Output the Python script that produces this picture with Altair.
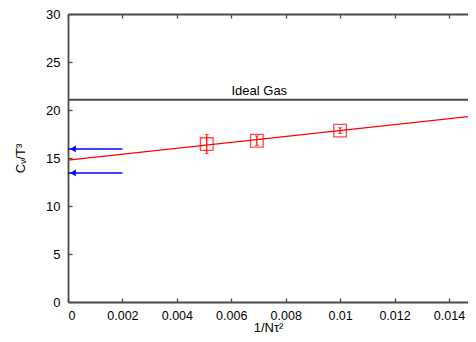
import altair as alt
import pandas as pd

# ---- data ----
inv_nt2 = [0.0051, 0.00694, 0.0100]          # 1/N_tau^2
cv_t3 = [16.45, 16.80, 17.85]                # C_v/T^3
cv_err = [1.00, 0.50, 0.30]

fit_x = [0.0, 0.015]
fit_y = [14.78, 19.40]

ideal_x = [0.0, 0.015]
ideal_y = [21.07, 21.07]
ideal_label = "Ideal Gas"
ideal_label_x = 0.00703

arrow_y = [15.95, 13.45]
arrow_x_start = 0.002
arrow_x_end = 0.0

x_ticks = [0, 0.002, 0.004, 0.006, 0.008, 0.010, 0.012, 0.014]
y_ticks = [0, 5, 10, 15, 20, 25, 30]
x_max = 0.0147

W, H = 400, 288
FONT = "Liberation Sans"
FRAME = "#4a4a4a"

xs = alt.Scale(domain=[0, x_max], nice=False, zero=False)
ys = alt.Scale(domain=[0, 30], nice=False, zero=False)

pts = pd.DataFrame({"x": inv_nt2, "y": cv_t3,
                    "lo": [a - b for a, b in zip(cv_t3, cv_err)],
                    "hi": [a + b for a, b in zip(cv_t3, cv_err)]})
fit = pd.DataFrame({"x": fit_x, "y": fit_y})
ideal = pd.DataFrame({"x": ideal_x, "y": ideal_y})
lbl = pd.DataFrame({"x": [ideal_label_x], "y": [ideal_y[0]], "t": [ideal_label]})
arr = pd.DataFrame({"x": [arrow_x_start] * 2, "x2": [arrow_x_end] * 2, "y": arrow_y})
tickdf = pd.DataFrame({"x": [0.0], "y": [0.0]})

main_x_axis = alt.Axis(orient="bottom", values=x_ticks, format="~g", tickSize=0,
                       labelPadding=7, domain=True, domainColor=FRAME, domainWidth=1.8,
                       grid=False,
                       labelFont=FONT, labelFontSize=12.5, labelColor="black",
                       title="1/Nτ²", titleFont=FONT, titleFontSize=13,
                       titleFontWeight="normal", titleColor="black", titlePadding=0)
main_y_axis = alt.Axis(orient="left", values=y_ticks, tickSize=0,
                       labelPadding=8, domain=True, domainColor=FRAME, domainWidth=1.8,
                       grid=False,
                       labelFont=FONT, labelFontSize=13, labelColor="black",
                       title="Cᵥ/T³", titleFont=FONT, titleFontSize=13,
                       titleFontWeight="normal", titleColor="black", titlePadding=18)


def tick_axis(orient, offset, values, domain=False):
    return alt.Axis(orient=orient, offset=offset, values=values, labels=False,
                    title=None, domain=domain, domainColor=FRAME, domainWidth=1.8,
                    grid=False, tickSize=4, tickColor=FRAME, tickWidth=1.3)


fit_line = alt.Chart(fit).mark_line(color="#ff0000", strokeWidth=1.3, clip=True).encode(
    x=alt.X("x:Q", scale=xs, axis=main_x_axis),
    y=alt.Y("y:Q", scale=ys, axis=main_y_axis),
)

ideal_line = alt.Chart(ideal).mark_line(color=FRAME, strokeWidth=2, clip=True).encode(
    x=alt.X("x:Q", scale=xs, axis=None),
    y=alt.Y("y:Q", scale=ys, axis=None),
)

ideal_text = alt.Chart(lbl).mark_text(baseline="alphabetic", dy=-5, font=FONT,
                                      fontSize=13, color="black").encode(
    x=alt.X("x:Q", scale=xs, axis=None),
    y=alt.Y("y:Q", scale=ys, axis=None),
    text="t:N",
)

err_rule = alt.Chart(pts).mark_rule(color="#ff0000", strokeWidth=1.2).encode(
    x=alt.X("x:Q", scale=xs, axis=None),
    y=alt.Y("lo:Q", scale=ys, axis=None),
    y2="hi:Q",
)
cap_lo = alt.Chart(pts).mark_tick(color="#ff0000", orient="horizontal", size=4,
                                  thickness=1).encode(
    x=alt.X("x:Q", scale=xs, axis=None),
    y=alt.Y("lo:Q", scale=ys, axis=None),
)
cap_hi = alt.Chart(pts).mark_tick(color="#ff0000", orient="horizontal", size=4,
                                  thickness=1).encode(
    x=alt.X("x:Q", scale=xs, axis=None),
    y=alt.Y("hi:Q", scale=ys, axis=None),
)
squares = alt.Chart(pts).mark_point(shape="square", filled=False, size=160,
                                    color="#ff0000", strokeWidth=1.3).encode(
    x=alt.X("x:Q", scale=xs, axis=None),
    y=alt.Y("y:Q", scale=ys, axis=None),
)

arrow_shaft = alt.Chart(arr).mark_rule(color="#0000ff", strokeWidth=1.5).encode(
    x=alt.X("x:Q", scale=xs, axis=None),
    x2="x2:Q",
    y=alt.Y("y:Q", scale=ys, axis=None),
)
arrow_head = alt.Chart(arr).mark_point(shape="triangle-left", filled=True, size=45,
                                       color="#0000ff", opacity=1,
                                       xOffset=5).encode(
    x=alt.X("x2:Q", scale=xs, axis=None),
    y=alt.Y("y:Q", scale=ys, axis=None),
)

inv = dict(opacity=0, size=1)
t_bottom = alt.Chart(tickdf).mark_point(**inv).encode(
    x=alt.X("x:Q", scale=xs, axis=tick_axis("top", -H, x_ticks)),
    y=alt.Y("y:Q", scale=ys, axis=None))
t_top = alt.Chart(tickdf).mark_point(**inv).encode(
    x=alt.X("x:Q", scale=xs, axis=tick_axis("bottom", -H, x_ticks, domain=True)),
    y=alt.Y("y:Q", scale=ys, axis=None))
t_left = alt.Chart(tickdf).mark_point(**inv).encode(
    x=alt.X("x:Q", scale=xs, axis=None),
    y=alt.Y("y:Q", scale=ys, axis=tick_axis("right", -W, y_ticks)))

chart = alt.layer(
    fit_line, t_bottom, t_top, t_left,
    ideal_line, ideal_text, arrow_shaft, arrow_head,
    err_rule, cap_lo, cap_hi, squares,
).resolve_axis(x="independent", y="independent").properties(
    width=W, height=H,
    autosize=alt.AutoSizeParams(type="none"),
    padding={"left": 60, "top": 6, "right": 0, "bottom": 32},
).configure_view(stroke=None).configure(background="white")

chart.save("out.html", embed_options={"renderer": "svg", "actions": False})
